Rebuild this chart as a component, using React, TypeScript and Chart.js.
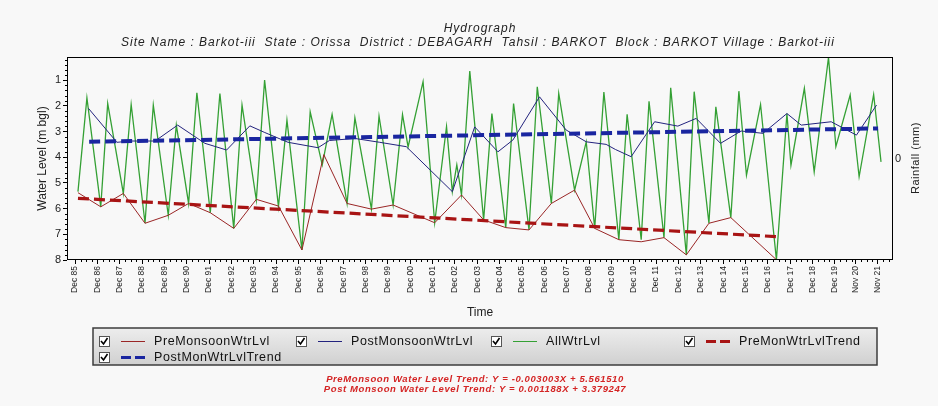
import React, { useEffect, useRef } from "react";
import { Chart, registerables } from "chart.js";

Chart.register(...registerables);

const FONT = "'Liberation Sans', Arial, sans-serif";

// ---- data (decimal year, water level m bgl) ----
const allYears = [
  1986.05, 1986.45, 1987.07, 1987.38, 1988.08, 1988.43, 1989.05, 1989.42, 1990.09, 1990.45,
  1991.0, 1991.37, 1991.97, 1992.4, 1993.02, 1993.39, 1994.03, 1994.4, 1995.02, 1995.4,
  1996.07, 1996.44, 1996.98, 1997.42, 1998.09, 1998.44, 1999.18, 1999.52, 2000.15, 2000.57,
  2000.82, 2001.49, 2002.01, 2002.54, 2002.8, 2003.0, 2003.21, 2003.58, 2004.2, 2004.57,
  2005.19, 2005.54, 2006.23, 2006.6, 2007.23, 2007.56, 2008.27, 2008.79, 2009.17, 2009.58,
  2010.25, 2010.62, 2011.25, 2011.6, 2012.27, 2012.57, 2013.27, 2013.62, 2014.28, 2014.59,
  2015.26, 2015.62, 2015.96, 2016.59, 2017.3, 2017.77, 2017.95, 2018.55, 2018.99, 2019.63,
  2019.96, 2020.6, 2021.0, 2021.65, 2021.98,
];
const allLevels = [
  5.34, 1.69, 5.93, 1.91, 5.41, 1.95, 6.57, 1.97, 6.26, 2.75,
  5.8, 1.49, 6.16, 1.52, 6.77, 1.97, 5.67, 1.0, 5.93, 2.56,
  7.61, 2.23, 4.3, 2.33, 5.8, 2.47, 6.02, 2.4, 5.86, 2.34,
  3.6, 1.06, 6.55, 2.81, 5.34, 4.3, 5.47, 0.65, 6.44, 2.3,
  6.74, 1.91, 6.83, 1.26, 5.8, 1.52, 5.28, 3.4, 6.77, 1.46,
  7.21, 2.33, 7.21, 1.82, 7.13, 1.3, 7.8, 1.45, 6.57, 2.04,
  6.35, 1.43, 4.7, 1.95, 7.99, 2.3, 4.31, 1.32, 4.57, 0.12,
  3.59, 1.58, 4.76, 1.56, 4.18,
];

const preYears = [
  1986.05, 1987.07, 1988.08, 1989.05, 1990.09, 1991.0, 1991.97, 1993.02, 1994.03, 1995.02,
  1996.07, 1997.05, 1998.09, 1999.18, 2000.15, 2002.01, 2003.21, 2004.2, 2005.19, 2006.23,
  2007.23, 2008.27, 2009.17, 2010.25, 2011.25, 2012.27, 2013.27, 2014.28, 2015.26, 2017.3,
];
const preLevels = [
  5.38, 5.93, 5.41, 6.57, 6.26, 5.8, 6.16, 6.77, 5.64, 5.9,
  7.61, 3.9, 5.8, 6.02, 5.86, 6.55, 5.47, 6.44, 6.74, 6.83,
  5.8, 5.28, 6.77, 7.21, 7.29, 7.13, 7.8, 6.57, 6.35, 7.99,
];

const postYears = [
  1986.52, 1987.79, 1988.45, 1989.5, 1990.51, 1991.73, 1992.7, 1993.74, 1994.41, 1995.45,
  1996.79, 1997.3, 1998.44, 1999.55, 2000.74, 2002.8, 2003.8, 2004.84, 2005.51, 2006.7,
  2007.89, 2008.79, 2009.68, 2010.1, 2010.8, 2011.85, 2012.89, 2013.71, 2014.8, 2015.72,
  2016.7, 2017.77, 2018.41, 2019.75, 2020.88, 2021.78,
];
const postLevels = [
  2.1, 3.42, 3.37, 3.37, 2.75, 3.46, 3.72, 2.78, 3.04, 3.42,
  3.63, 3.35, 3.27, 3.42, 3.59, 5.34, 2.82, 3.79, 3.33, 1.65,
  2.94, 3.4, 3.5, 3.7, 3.98, 2.62, 2.79, 2.49, 3.46, 2.98,
  3.07, 2.3, 2.75, 2.62, 3.14, 1.97,
];

const preTrendYears = [1986.05, 2017.3];
const preTrendLevels = [5.6, 7.09];
const postTrendYears = [1986.55, 2021.85];
const postTrendLevels = [3.4, 2.88];

const tickYears = [
  1985.917, 1986.917, 1987.917, 1988.917, 1989.917, 1990.917, 1991.917, 1992.917, 1993.917,
  1994.917, 1995.917, 1996.917, 1997.917, 1998.917, 1999.917, 2000.917, 2001.917, 2002.917,
  2003.917, 2004.917, 2005.917, 2006.917, 2007.917, 2008.917, 2009.917, 2010.917, 2011.917,
  2012.917, 2013.917, 2014.917, 2015.917, 2016.917, 2017.917, 2018.917, 2019.917, 2020.833,
  2021.833,
];
const tickLabels = [
  "Dec 85", "Dec 86", "Dec 87", "Dec 88", "Dec 89", "Dec 90", "Dec 91", "Dec 92", "Dec 93",
  "Dec 94", "Dec 95", "Dec 96", "Dec 97", "Dec 98", "Dec 99", "Dec 00", "Dec 01", "Dec 02",
  "Dec 03", "Dec 04", "Dec 05", "Dec 06", "Dec 07", "Dec 08", "Dec 09", "Dec 10", "Dec 11",
  "Dec 12", "Dec 13", "Dec 14", "Dec 15", "Dec 16", "Dec 17", "Dec 18", "Dec 19", "Nov 20",
  "Nov 21",
];
const yTicks = [1, 2, 3, 4, 5, 6, 7, 8];

const titleText = "Hydrograph";
const subtitleText =
  "Site Name : Barkot-iii  State : Orissa  District : DEBAGARH  Tahsil : BARKOT  Block : BARKOT Village : Barkot-iii";
const legendLabels = [
  "PreMonsoonWtrLvl",
  "PostMonsoonWtrLvl",
  "AllWtrLvl",
  "PreMonWtrLvlTrend",
  "PostMonWtrLvlTrend",
];
const equationLines = [
  "PreMonsoon Water Level Trend: Y = -0.003003X + 5.561510",
  "Post Monsoon Water Level Trend: Y = 0.001188X + 3.379247",
];

const C_PRE = "#9a2626";
const C_POST = "#23237e";
const C_ALL = "#34a034";
const C_PRE_T = "#a81414";
const C_POST_T = "#1a26a0";

const pts = (xs: number[], ys: number[]) => xs.map((x, i) => ({ x, y: ys[i] }));

const decor = {
  id: "decor",
  beforeDraw(chart: any) {
    const { ctx, width, height } = chart;
    ctx.save();
    ctx.fillStyle = "#f8f8f8";
    ctx.fillRect(0, 0, width, height);
    ctx.restore();
  },
  afterDraw(chart: any) {
    const { ctx, chartArea: a, scales } = chart;
    const xs = scales.x;
    const ys = scales.y;
    ctx.save();
    // titles
    ctx.fillStyle = "#222";
    ctx.textAlign = "center";
    ctx.textBaseline = "middle";
    ctx.font = `italic 12px ${FONT}`;
    (ctx as any).letterSpacing = "1px";
    ctx.fillText(titleText, 480, 29);
    ctx.fillText(subtitleText, 478, 43);
    (ctx as any).letterSpacing = "0px";

    // plot frame
    ctx.strokeStyle = "#000";
    ctx.lineWidth = 1;
    ctx.strokeRect(a.left + 0.5, a.top + 0.5, a.right - a.left - 1, a.bottom - a.top - 1);
    // minor ticks
    ctx.beginPath();
    for (let v = 0.2; v < 8; v += 0.2) {
      if (Math.abs(v - Math.round(v)) < 0.01) continue;
      const py = Math.round(ys.getPixelForValue(v)) + 0.5;
      ctx.moveTo(a.left - 2, py);
      ctx.lineTo(a.left, py);
    }
    for (let i = 0; i < tickYears.length; i++) {
      for (let k = 1; k < 4; k++) {
        const v = tickYears[i] + k * 0.25;
        if (v > xs.max) continue;
        const px = Math.round(xs.getPixelForValue(v)) + 0.5;
        ctx.moveTo(px, a.bottom);
        ctx.lineTo(px, a.bottom + 2);
      }
    }
    ctx.stroke();

    // right axis title
    ctx.fillStyle = "#222";
    ctx.font = `11px ${FONT}`;
    (ctx as any).letterSpacing = "0.5px";
    ctx.textAlign = "center";
    ctx.textBaseline = "middle";
    ctx.translate(916, 158);
    ctx.rotate(-Math.PI / 2);
    ctx.fillText("Rainfall (mm)", 0, 0);
    ctx.restore();

    // legend box
    ctx.save();
    const bx = 93, by = 328, bw = 784, bh = 37;
    const g = ctx.createLinearGradient(0, by, 0, by + bh);
    g.addColorStop(0, "#ededed");
    g.addColorStop(1, "#d0d0d0");
    ctx.fillStyle = g;
    ctx.fillRect(bx, by, bw, bh);
    ctx.strokeStyle = "#3c3c3c";
    ctx.lineWidth = 1.5;
    ctx.strokeRect(bx, by, bw, bh);

    const items = [
      { x: 99, y: 341, color: C_PRE, dash: false },
      { x: 296, y: 341, color: C_POST, dash: false },
      { x: 491, y: 341, color: C_ALL, dash: false },
      { x: 684, y: 341, color: C_PRE_T, dash: true },
      { x: 99, y: 357, color: C_POST_T, dash: true },
    ];
    items.forEach((it, i) => {
      // checkbox
      ctx.fillStyle = "#fff";
      ctx.fillRect(it.x, it.y - 5, 10, 10);
      ctx.strokeStyle = "#555";
      ctx.lineWidth = 1;
      ctx.strokeRect(it.x + 0.5, it.y - 4.5, 10, 10);
      ctx.strokeStyle = "#000";
      ctx.lineWidth = 1.6;
      ctx.beginPath();
      ctx.moveTo(it.x + 2, it.y);
      ctx.lineTo(it.x + 4.5, it.y + 3);
      ctx.lineTo(it.x + 8.5, it.y - 3);
      ctx.stroke();
      // sample line
      ctx.strokeStyle = it.color;
      ctx.beginPath();
      if (it.dash) {
        ctx.lineWidth = 3;
        ctx.moveTo(it.x + 22, it.y + 0.5);
        ctx.lineTo(it.x + 32, it.y + 0.5);
        ctx.moveTo(it.x + 36, it.y + 0.5);
        ctx.lineTo(it.x + 46, it.y + 0.5);
      } else {
        ctx.lineWidth = 1;
        ctx.moveTo(it.x + 22, it.y + 0.5);
        ctx.lineTo(it.x + 46, it.y + 0.5);
      }
      ctx.stroke();
      ctx.fillStyle = "#111";
      ctx.font = `12.5px ${FONT}`;
      (ctx as any).letterSpacing = "0.6px";
      ctx.textAlign = "left";
      ctx.textBaseline = "middle";
      ctx.fillText(legendLabels[i], it.x + 55, it.y + 0.5);
      (ctx as any).letterSpacing = "0px";
    });

    // equations
    ctx.fillStyle = "#d42424";
    ctx.font = `italic bold 9.5px ${FONT}`;
    (ctx as any).letterSpacing = "0.6px";
    ctx.textAlign = "center";
    ctx.textBaseline = "middle";
    ctx.fillText(equationLines[0], 475, 379);
    ctx.fillText(equationLines[1], 475, 389);
    (ctx as any).letterSpacing = "0px";
    ctx.restore();
  },
};

export default function App() {
  const ref = useRef<HTMLCanvasElement | null>(null);

  useEffect(() => {
    if (!ref.current) return;
    const chart = new Chart(ref.current, {
      type: "line",
      data: {
        datasets: [
          {
            label: legendLabels[4],
            data: pts(postTrendYears, postTrendLevels),
            borderColor: C_POST_T,
            borderWidth: 4,
            borderDash: [11, 5],
            pointRadius: 0,
            order: 1,
          },
          {
            label: legendLabels[3],
            data: pts(preTrendYears, preTrendLevels),
            borderColor: C_PRE_T,
            borderWidth: 3.2,
            borderDash: [11, 5],
            pointRadius: 0,
            order: 2,
          },
          {
            label: legendLabels[1],
            data: pts(postYears, postLevels),
            borderColor: C_POST,
            borderWidth: 1,
            pointRadius: 0,
            order: 3,
          },
          {
            label: legendLabels[0],
            data: pts(preYears, preLevels),
            borderColor: C_PRE,
            borderWidth: 1,
            pointRadius: 0,
            order: 4,
          },
          {
            label: legendLabels[2],
            data: pts(allYears, allLevels),
            borderColor: C_ALL,
            borderWidth: 1.3,
            pointRadius: 0,
            order: 5,
          },
        ],
      },
      options: {
        animation: false,
        responsive: true,
        maintainAspectRatio: false,
        layout: { padding: { left: 0, right: 0, top: 57, bottom: 84 } },
        plugins: {
          legend: { display: false },
          tooltip: { enabled: false },
          title: { display: false },
          subtitle: { display: false },
        },
        scales: {
          x: {
            type: "linear",
            min: 1985.559,
            max: 2022.516,
            afterBuildTicks: (axis: any) => {
              axis.ticks = tickYears.map((v) => ({ value: v }));
            },
            afterFit: (axis: any) => {
              axis.height = 62;
            },
            ticks: {
              autoSkip: false,
              minRotation: 90,
              maxRotation: 90,
              padding: 2,
              color: "#222",
              font: { family: FONT, size: 8.5 },
              callback: (_v: any, i: number) => tickLabels[i],
            },
            grid: { drawOnChartArea: false, drawTicks: true, tickLength: 4, color: "#000" },
            border: { display: false },
            title: {
              display: true,
              text: "Time",
              color: "#222",
              font: { family: FONT, size: 12 },
              padding: { top: 0, bottom: 2 },
            },
          },
          y: {
            type: "linear",
            position: "left",
            reverse: true,
            min: 0.1,
            max: 8,
            afterBuildTicks: (axis: any) => {
              axis.ticks = yTicks.map((v) => ({ value: v }));
            },
            afterFit: (axis: any) => {
              axis.width = 67;
            },
            ticks: { padding: 2, color: "#222", font: { family: FONT, size: 11 } },
            grid: { drawOnChartArea: false, drawTicks: true, tickLength: 4, color: "#000" },
            border: { display: false },
            title: {
              display: true,
              text: "Water Level (m bgl)",
              color: "#222",
              font: { family: FONT, size: 12 },
              padding: { top: 35, bottom: 0 },
            },
          },
          y2: {
            type: "linear",
            position: "right",
            min: -1,
            max: 1,
            afterBuildTicks: (axis: any) => {
              axis.ticks = [{ value: 0 }];
            },
            afterFit: (axis: any) => {
              axis.width = 45;
            },
            ticks: { padding: 2, color: "#222", font: { family: FONT, size: 11 } },
            grid: { display: false, drawTicks: false },
            border: { display: false },
          },
        },
      },
      plugins: [decor],
    });
    return () => chart.destroy();
  }, []);

  return (
    <div style={{ position: "fixed", left: 0, top: 0, width: 938, height: 406 }}>
      <canvas ref={ref} />
    </div>
  );
}
